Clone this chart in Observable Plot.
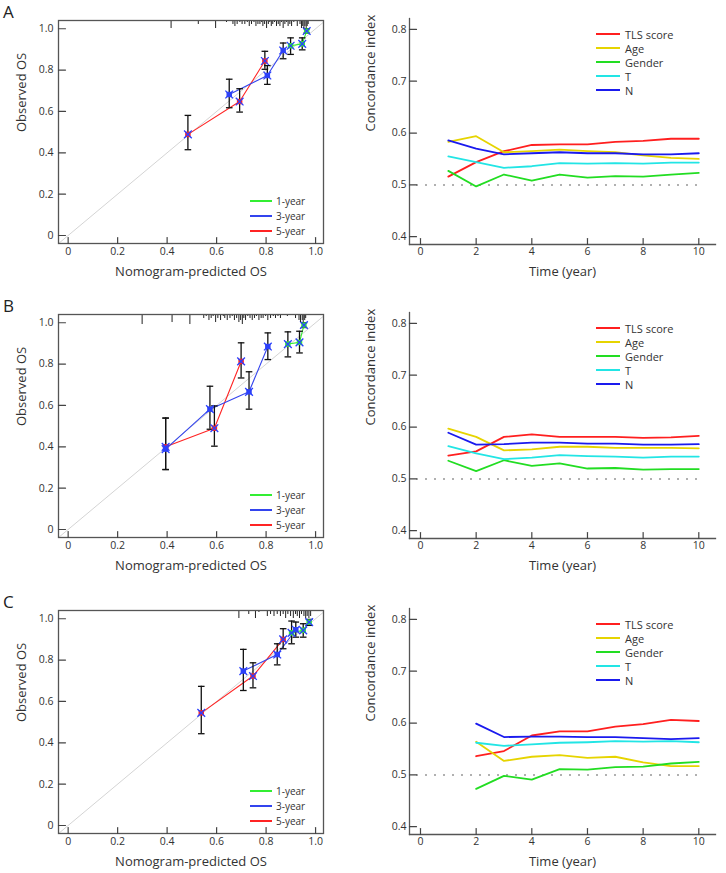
<!DOCTYPE html>
<html><head><meta charset="utf-8">
<script src="https://cdn.jsdelivr.net/npm/d3@7"></script>
<script src="https://cdn.jsdelivr.net/npm/@observablehq/plot@0.6"></script>
<style>
body{margin:0;background:#fff;font-family:"Open Sans",sans-serif;}
#fig{position:relative;width:726px;height:873px;overflow:hidden;}
.cell{position:absolute;}
.letter{position:absolute;font-size:17px;color:#222;line-height:1;}
.lrow{position:absolute;display:flex;align-items:center;height:16px;white-space:nowrap;color:#333;}
.lrow .sw{display:inline-block;height:2px;}
</style>
</head><body><div id="fig"></div>
<script>
// ---------- calibration panels (left) ----------
const calSeries = ["1-year", "3-year", "5-year"];
const calColors = ["#33ee33", "#3344ee", "#ff2424"];
const calTicks = [0, 0.2, 0.4, 0.6, 0.8, 1.0];
const calXLabel = "Nomogram-predicted OS";
const calYLabel = "Observed OS";

const calA_group = ["5-year","5-year","5-year","3-year","3-year","3-year","1-year","1-year","1-year"];
const calA_pred  = [0.484, 0.693, 0.795, 0.651, 0.805, 0.869, 0.899, 0.946, 0.964];
const calA_obs   = [0.489, 0.648, 0.844, 0.682, 0.774, 0.895, 0.918, 0.927, 0.989];
const calA_lo    = [0.415, 0.597, 0.804, 0.618, 0.731, 0.855, 0.876, 0.898, 0.979];
const calA_hi    = [0.581, 0.710, 0.891, 0.756, 0.822, 0.931, 0.956, 0.956, 1.000];
const rugA_x = [0.416,0.526,0.596,0.640,0.666,0.674,0.683,0.694,0.703,0.714,0.724,0.732,0.741,0.751,0.759,0.767,0.775,0.782,0.787,0.794,0.802,0.809,0.815,0.821,0.827,0.834,0.842,0.849,0.856,0.862,0.869,0.876,0.883,0.889,0.896,0.903,0.912,0.926,0.937,0.943,0.948,0.953,0.957,0.962,0.966,0.970];
const rugA_n = [4,2,4,1,2,3,2,1,2,2,1,3,2,1,3,2,2,1,3,2,4,2,1,3,2,1,3,2,3,1,4,2,1,3,2,3,1,3,2,4,3,4,3,4,3,2];

const calB_group = ["5-year","5-year","5-year","3-year","3-year","3-year","3-year","1-year","1-year","1-year"];
const calB_pred  = [0.394, 0.591, 0.699, 0.394, 0.573, 0.731, 0.807, 0.888, 0.935, 0.953];
const calB_obs   = [0.400, 0.490, 0.813, 0.389, 0.582, 0.666, 0.885, 0.897, 0.905, 0.989];
const calB_lo    = [0.290, 0.403, 0.733, 0.290, 0.485, 0.582, 0.822, 0.835, 0.854, 0.977];
const calB_hi    = [0.539, 0.598, 0.903, 0.539, 0.693, 0.763, 0.951, 0.956, 0.959, 1.000];
const rugB_x = [0.299,0.420,0.492,0.548,0.558,0.569,0.578,0.586,0.596,0.605,0.616,0.627,0.633,0.643,0.654,0.663,0.672,0.681,0.690,0.697,0.704,0.710,0.717,0.726,0.735,0.744,0.753,0.761,0.771,0.780,0.788,0.798,0.807,0.818,0.829,0.838,0.848,0.858,0.886,0.919,0.933,0.939,0.946,0.950,0.956,0.960];
const rugB_n = [5,4,5,2,1,3,2,1,4,2,3,1,2,3,2,1,3,2,4,3,5,2,3,1,2,3,2,1,3,2,2,1,3,2,1,2,1,2,1,2,3,4,3,4,3,2];

const calC_group = ["5-year","5-year","5-year","3-year","3-year","3-year","1-year","1-year","1-year"];
const calC_pred  = [0.538, 0.747, 0.869, 0.708, 0.845, 0.920, 0.903, 0.950, 0.974];
const calC_obs   = [0.545, 0.723, 0.900, 0.747, 0.827, 0.947, 0.932, 0.944, 0.984];
const calC_lo    = [0.444, 0.666, 0.855, 0.653, 0.777, 0.911, 0.879, 0.911, 0.968];
const calC_hi    = [0.673, 0.787, 0.952, 0.852, 0.879, 0.984, 0.989, 0.976, 0.997];
const rugC_x = [0.690,0.730,0.757,0.771,0.805,0.818,0.832,0.845,0.858,0.869,0.879,0.888,0.899,0.910,0.919,0.926,0.935,0.943,0.953,0.960,0.966,0.973,0.980];
const rugC_n = [4,2,4,1,3,2,3,2,3,2,4,2,3,4,2,3,4,2,3,4,3,4,3];

// ---------- concordance panels (right) ----------
const ciSeries = ["TLS score", "Age", "Gender", "T", "N"];
const ciColors = ["#ff1f1f", "#e6d400", "#22dd22", "#22e5e5", "#1a1aee"];
const ciXTicks = [0, 2, 4, 6, 8, 10];
const ciYTicks = [0.4, 0.5, 0.6, 0.7, 0.8];
const ciRef = 0.5;
const ciXLabel = "Time (year)";
const ciYLabel = "Concordance index";

const yearsAB = [1,2,3,4,5,6,7,8,9,10];
const ciA_TLS    = [0.516,0.544,0.565,0.577,0.578,0.578,0.583,0.585,0.589,0.589];
const ciA_Age    = [0.583,0.594,0.563,0.565,0.568,0.565,0.563,0.557,0.552,0.550];
const ciA_Gender = [0.527,0.497,0.520,0.508,0.520,0.514,0.517,0.516,0.520,0.523];
const ciA_T      = [0.555,0.544,0.533,0.536,0.542,0.541,0.542,0.541,0.543,0.543];
const ciA_N      = [0.586,0.570,0.559,0.561,0.563,0.561,0.561,0.559,0.559,0.561];

const ciB_TLS    = [0.545,0.553,0.581,0.586,0.581,0.581,0.581,0.579,0.580,0.583];
const ciB_Age    = [0.597,0.581,0.555,0.557,0.562,0.562,0.560,0.560,0.560,0.559];
const ciB_Gender = [0.535,0.515,0.536,0.525,0.530,0.520,0.521,0.518,0.519,0.519];
const ciB_T      = [0.563,0.549,0.538,0.541,0.546,0.544,0.543,0.541,0.543,0.543];
const ciB_N      = [0.589,0.566,0.567,0.570,0.570,0.568,0.568,0.566,0.566,0.567];

const yearsC = [2,3,4,5,6,7,8,9,10];
const ciC_TLS    = [0.536,0.546,0.576,0.584,0.584,0.593,0.598,0.606,0.604];
const ciC_Age    = [0.564,0.527,0.535,0.538,0.533,0.535,0.524,0.517,0.517];
const ciC_Gender = [0.473,0.498,0.491,0.511,0.510,0.515,0.516,0.522,0.525];
const ciC_T      = [0.562,0.556,0.559,0.562,0.563,0.565,0.564,0.565,0.563];
const ciC_N      = [0.599,0.573,0.574,0.574,0.573,0.573,0.571,0.569,0.571];

// ---------- helpers ----------
const rowTops = [0, 294, 590];
const calXDomain = [-0.039, 1.032];
const calYDomain = [-0.0387, 1.040];
const ciXDomain = [-0.395, 10.6];
const ciYDomain = [0.385, 0.821];
const rugUnit = 0.0097;
const fmtCal = d => d === 0 ? "0" : d.toFixed(1);
const tickShape = {draw(ctx, l) { ctx.moveTo(0, 0); ctx.lineTo(0, -l); }};
const capSymbol = {draw(ctx, size) { const w = Math.sqrt(size / Math.PI); ctx.moveTo(-w, 0); ctx.lineTo(w, 0); }};
const baseStyle = {fontFamily: "Open Sans", fontSize: "10.5px", color: "#333", background: "transparent", overflow: "visible"};

function calPlot(group, pred, obs, lo, hi, rugX, rugN) {
  const data = pred.map((p, i) => ({g: group[i], x: p, y: obs[i], lo: lo[i], hi: hi[i]}));
  const rug = rugX.map((x, i) => ({x, n: rugN[i]}));
  const yTop = calYDomain[1];
  return Plot.plot({
    width: 345, height: 290, marginLeft: 58, marginRight: 22, marginTop: 20, marginBottom: 47,
    style: baseStyle,
    x: {domain: calXDomain, axis: null},
    y: {domain: calYDomain, axis: null},
    color: {domain: calSeries, range: calColors},
    marks: [
      Plot.line(calXDomain, {x: d => d, y: d => d, stroke: "#d4d4d4", strokeWidth: 1, clip: true}),
      Plot.line(data, {x: "x", y: "y", z: "g", stroke: "g", strokeWidth: 1.1}),
      Plot.ruleX(data, {x: "x", y1: "lo", y2: "hi", stroke: "#111", strokeWidth: 1.3}),
      Plot.dot(data, {x: "x", y: "lo", symbol: capSymbol, r: 3.3, fill: "none", stroke: "#111", strokeWidth: 1.3}),
      Plot.dot(data, {x: "x", y: "hi", symbol: capSymbol, r: 3.3, fill: "none", stroke: "#111", strokeWidth: 1.3}),
      Plot.dot(data, {x: "x", y: "y", symbol: "square", r: 3.1, fill: "g"}),
      Plot.dot(data, {x: "x", y: "y", symbol: "times", r: 3.6, stroke: "#2a40ff", strokeWidth: 1.3}),
      Plot.ruleX(rug, {x: "x", y1: yTop, y2: d => yTop - d.n * rugUnit, stroke: "#222", strokeWidth: 1}),
      Plot.frame({stroke: "#555", strokeWidth: 1.3}),
      Plot.axisX(calTicks, {tickSize: 0, tickPadding: 4.5, tickFormat: fmtCal, label: null, fontSize: 10.5}),
      Plot.axisY(calTicks, {tickSize: 0, tickPadding: 5, tickFormat: fmtCal, label: null, fontSize: 10.5}),
      Plot.vector(calTicks, {x: d => d, frameAnchor: "bottom", length: 6, anchor: "start", shape: tickShape, stroke: "#444", strokeWidth: 1.2}),
      Plot.vector(calTicks, {y: d => d, frameAnchor: "left", rotate: 90, length: 7, anchor: "start", shape: tickShape, stroke: "#444", strokeWidth: 1.2}),
      Plot.text([calXLabel], {text: d => d, frameAnchor: "bottom", dy: 23.5, lineAnchor: "top", fontSize: 13, fill: "#333"}),
      Plot.text([calYLabel], {text: d => d, frameAnchor: "left", dx: -41.5, rotate: -90, lineAnchor: "top", fontSize: 13, fill: "#333"})
    ]
  });
}

function ciPlot(years, s0, s1, s2, s3, s4) {
  const cols = [s0, s1, s2, s3, s4];
  const data = [];
  cols.forEach((vals, k) => vals.forEach((v, i) => data.push({s: ciSeries[k], t: years[i], c: v})));
  return Plot.plot({
    width: 363, height: 290, marginLeft: 46, marginRight: 11, marginTop: 18, marginBottom: 46,
    style: baseStyle,
    x: {domain: ciXDomain, axis: null},
    y: {domain: ciYDomain, axis: null},
    color: {domain: ciSeries, range: ciColors},
    marks: [
      Plot.ruleY([ciRef], {stroke: "#b0b0b0", strokeWidth: 2, strokeDasharray: "2,7", insetLeft: 7, insetRight: 13}),
      Plot.line(data, {x: "t", y: "c", z: "s", stroke: "s", strokeWidth: 1.8, strokeLinejoin: "round"}),
      Plot.frame({anchor: "left", stroke: "#555", strokeWidth: 1.3}),
      Plot.frame({anchor: "bottom", stroke: "#555", strokeWidth: 1.3}),
      Plot.axisX(ciXTicks, {tickSize: 0, tickPadding: 3, label: null, fontSize: 10.5}),
      Plot.axisY(ciYTicks, {tickSize: 0, tickPadding: 3, tickFormat: d => d.toFixed(1), label: null, fontSize: 10.5}),
      Plot.vector(ciXTicks, {x: d => d, frameAnchor: "bottom", length: 6, anchor: "start", shape: tickShape, stroke: "#444", strokeWidth: 1.2}),
      Plot.vector(ciYTicks, {y: d => d, frameAnchor: "left", rotate: 90, length: 7, anchor: "start", shape: tickShape, stroke: "#444", strokeWidth: 1.2}),
      Plot.text([ciXLabel], {text: d => d, frameAnchor: "bottom", dy: 22.5, lineAnchor: "top", fontSize: 13, fill: "#333"}),
      Plot.text([ciYLabel], {text: d => d, frameAnchor: "left", dx: -44, rotate: -90, lineAnchor: "top", fontSize: 13, fill: "#333"})
    ]
  });
}

const fig = document.getElementById("fig");
function place(node, left, top) {
  const d = document.createElement("div");
  d.className = "cell"; d.style.left = left + "px"; d.style.top = top + "px";
  d.appendChild(node); fig.appendChild(d);
}
function legend(names, colors, left, top, step, lineW, gap, fontSize) {
  names.forEach((n, i) => {
    const r = document.createElement("div");
    r.className = "lrow";
    r.style.left = left + "px"; r.style.top = (top + i * step - 8) + "px"; r.style.fontSize = fontSize + "px";
    const sw = document.createElement("span");
    sw.className = "sw"; sw.style.width = lineW + "px"; sw.style.background = colors[i]; sw.style.marginRight = gap + "px";
    const tx = document.createElement("span"); tx.textContent = n;
    r.appendChild(sw); r.appendChild(tx); fig.appendChild(r);
  });
}

const letters = ["A", "B", "C"];
const calSets = [
  [calA_group, calA_pred, calA_obs, calA_lo, calA_hi, rugA_x, rugA_n],
  [calB_group, calB_pred, calB_obs, calB_lo, calB_hi, rugB_x, rugB_n],
  [calC_group, calC_pred, calC_obs, calC_lo, calC_hi, rugC_x, rugC_n]
];
const ciSets = [
  [yearsAB, ciA_TLS, ciA_Age, ciA_Gender, ciA_T, ciA_N],
  [yearsAB, ciB_TLS, ciB_Age, ciB_Gender, ciB_T, ciB_N],
  [yearsC, ciC_TLS, ciC_Age, ciC_Gender, ciC_T, ciC_N]
];
rowTops.forEach((top, r) => {
  place(calPlot(...calSets[r]), 0, top);
  place(ciPlot(...ciSets[r]), 363, top);
  const L = document.createElement("div");
  L.className = "letter"; L.textContent = letters[r];
  L.style.left = "3px"; L.style.top = (top + 3) + "px";
  fig.appendChild(L);
  legend(calSeries, calColors, 250, top + 201, 15, 22, 4, 10);
  legend(ciSeries, ciColors, 596, top + 34, 14, 24, 5, 11);
});
</script>
</body></html>
